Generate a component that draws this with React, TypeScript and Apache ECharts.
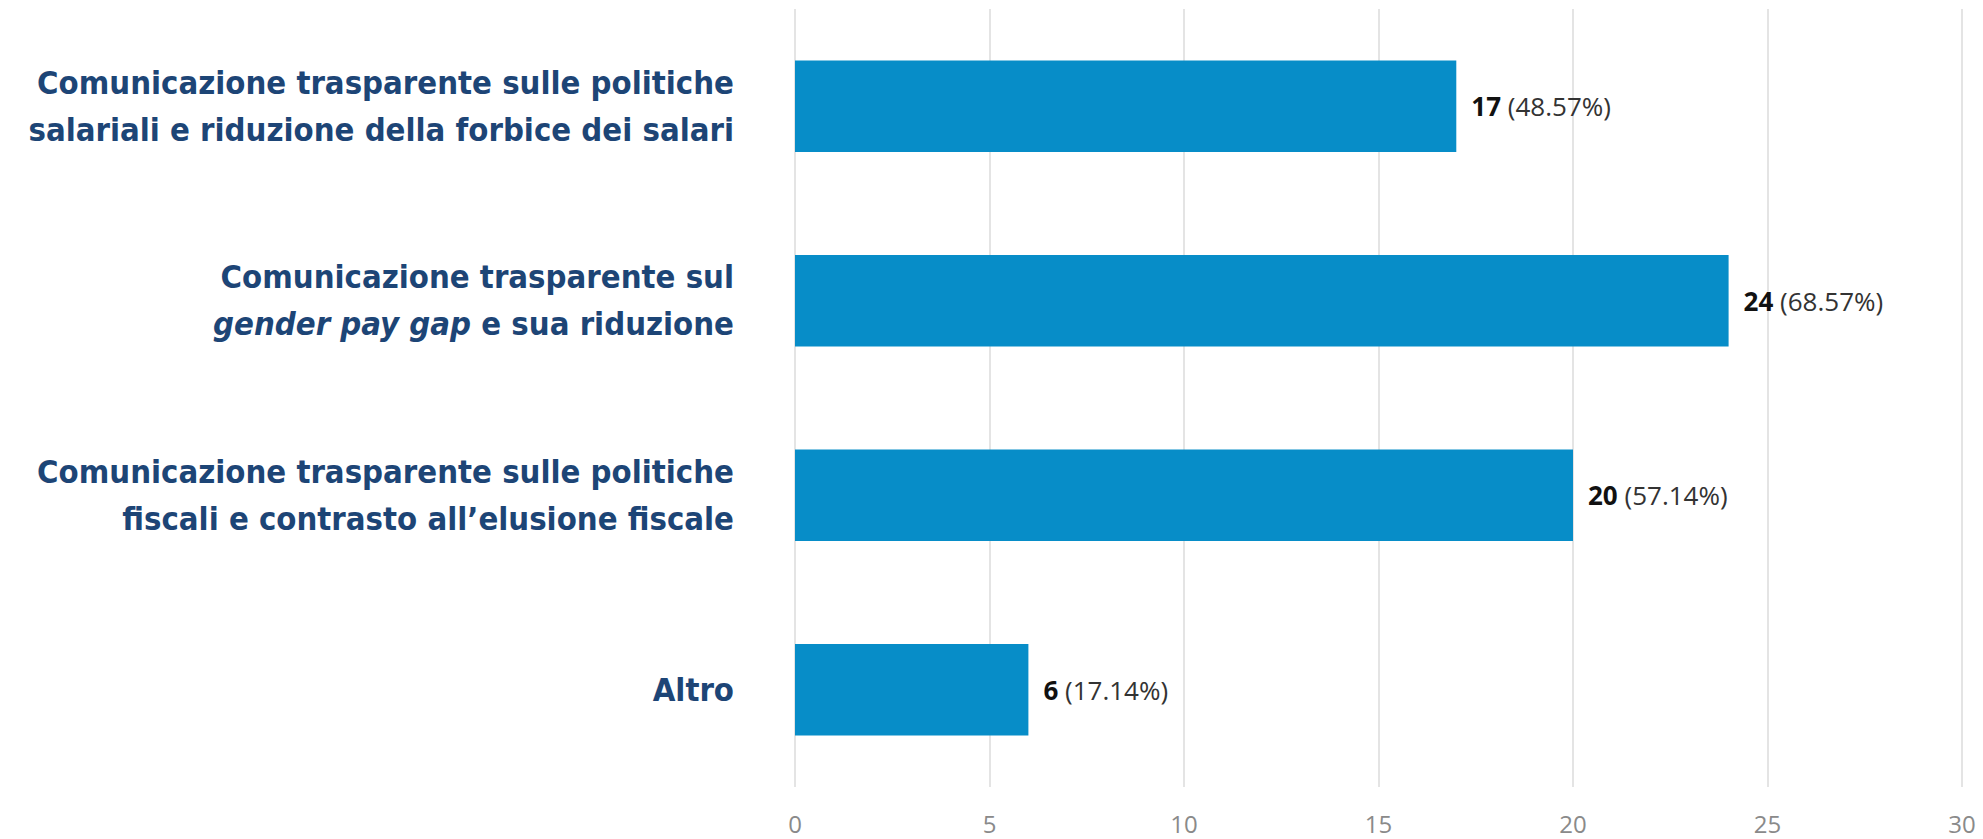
import React, { useEffect, useRef } from "react";
import * as echarts from "echarts";

const categories = [
  "Comunicazione trasparente sulle politiche\nsalariali e riduzione della forbice dei salari",
  "Comunicazione trasparente sul\n{i|gender pay gap} e sua riduzione",
  "Comunicazione trasparente sulle politiche\nfiscali e contrasto all’elusione fiscale",
  "Altro",
];
const counts = [17, 24, 20, 6];
const percents = ["48.57%", "68.57%", "57.14%", "17.14%"];
const xTicks = { min: 0, max: 30, interval: 5 };

const LABEL_FONT = "'DejaVu Sans Condensed', 'DejaVu Sans', sans-serif";
const LABEL_COLOR = "#1d4576";
const LABEL_SIZE = 32.6;

export default function App() {
  const ref = useRef<HTMLDivElement>(null);
  useEffect(() => {
    if (!ref.current) return;
    const chart = echarts.init(ref.current, undefined, { renderer: "svg" });
    chart.setOption({
      animation: false,
      backgroundColor: "#ffffff",
      grid: { left: 795, right: 21, top: 9, bottom: 52, containLabel: false },
      xAxis: {
        type: "value",
        min: xTicks.min,
        max: xTicks.max,
        interval: xTicks.interval,
        axisLine: { show: false },
        axisTick: { show: false },
        splitLine: { show: true, lineStyle: { color: "#e4e4e4", width: 2 } },
        axisLabel: {
          margin: 24,
          fontFamily: "'Open Sans', sans-serif",
          fontSize: 24,
          lineHeight: 24,
          color: "#8a8a8a",
        },
      },
      yAxis: {
        type: "category",
        inverse: true,
        data: categories,
        axisLine: { show: false },
        axisTick: { show: false },
        axisLabel: {
          margin: 61,
          align: "right",
          fontFamily: LABEL_FONT,
          fontSize: LABEL_SIZE,
          fontWeight: "bold",
          lineHeight: 47,
          color: LABEL_COLOR,
          rich: {
            i: {
              fontFamily: LABEL_FONT,
              fontSize: LABEL_SIZE,
              fontWeight: "bold",
              lineHeight: 47,
              fontStyle: "italic",
              color: LABEL_COLOR,
            },
          },
        },
      },
      series: [
        {
          type: "bar",
          data: counts,
          barWidth: "47%",
          itemStyle: { color: "#078dc8" },
          label: {
            show: true,
            position: "right",
            distance: 15,
            fontFamily: "'Open Sans', sans-serif",
            fontSize: 26,
            color: "#333333",
            formatter: (p: any) => `{b|${p.value}} {n|(${percents[p.dataIndex]})}`,
            rich: {
              b: {
                fontFamily: "'Open Sans', sans-serif",
                fontSize: 26,
                fontWeight: "bold",
                color: "#111111",
              },
              n: {
                fontFamily: "'Open Sans', sans-serif",
                fontSize: 26,
                color: "#333333",
              },
            },
          },
        },
      ],
    });
    return () => chart.dispose();
  }, []);
  return (
    <div
      ref={ref}
      style={{ position: "fixed", left: 0, top: 0, width: 1983, height: 839 }}
    />
  );
}
